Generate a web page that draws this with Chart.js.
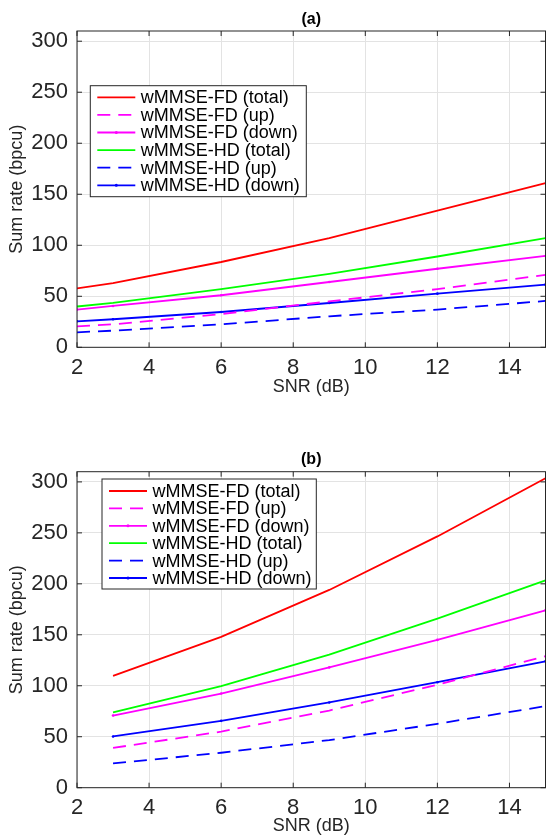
<!DOCTYPE html>
<html>
<head>
<meta charset="utf-8">
<script src="https://cdn.jsdelivr.net/npm/chart.js@4.4.1/dist/chart.umd.min.js"></script>
<style>
  html, body { margin: 0; padding: 0; background: #fff; }
  .panel { position: absolute; left: 0; width: 547px; }
</style>
</head>
<body>
<div class="panel" style="top:0;height:420px"><canvas id="chart-a" width="547" height="420"></canvas></div>
<div class="panel" style="top:420px;height:417px"><canvas id="chart-b" width="547" height="417"></canvas></div>
<script>
// ---- data ----
const seriesNames = [
  "wMMSE-FD (total)",
  "wMMSE-FD (up)",
  "wMMSE-FD (down)",
  "wMMSE-HD (total)",
  "wMMSE-HD (up)",
  "wMMSE-HD (down)",
];
const panelTitles = ["(a)", "(b)"];
const xAxisLabel = "SNR (dB)";
const yAxisLabel = "Sum rate (bpcu)";
const xTicks = [2, 4, 6, 8, 10, 12, 14];
const yTicks = [0, 50, 100, 150, 200, 250, 300];

// panel (a)
const snrA = [2, 3, 6, 9, 12, 15];
const fdTotalA = [57.8, 63, 83.6, 107, 134, 161];
const fdUpA = [20.5, 22.5, 32.6, 45, 57, 71];
const fdDownA = [37, 40.5, 51, 64, 77, 89.5];
const hdTotalA = [40, 43.5, 57, 72, 89, 107];
const hdUpA = [14.7, 16.3, 22.5, 30.4, 37, 45.4];
const hdDownA = [25.5, 27.5, 34.6, 43.4, 52.6, 61.4];

// panel (b)
const snrB = [3, 6, 9, 12, 15];
const fdTotalB = [109.7, 148, 194, 246.5, 303.6];
const fdUpB = [39, 55, 75.7, 101, 129];
const fdDownB = [70.8, 92.4, 118, 145, 174];
const hdTotalB = [74, 99.6, 130.6, 165.8, 203.4];
const hdUpB = [23.8, 34.3, 46.7, 62.7, 80];
const hdDownB = [50.3, 65.6, 83.6, 103.5, 124];

// ---- styles ----
const seriesColors = ["#ff0000", "#ff00ff", "#ff00ff", "#00ff00", "#0000ff", "#0000ff"];
const seriesDashed = [false, true, false, false, true, false];
const seriesDots = [false, false, true, false, false, true];
const FONT = "'Liberation Sans', Arial, Helvetica, sans-serif";
const AXIS_COLOR = "#262626";

// MATLAB-like box, inward ticks, panel title and inset legend
const matlabAxes = {
  id: "matlabAxes",
  afterDatasetsDraw(chart, args, opts) {
    const { ctx, chartArea: a, scales } = chart;
    ctx.save();
    ctx.strokeStyle = AXIS_COLOR;
    ctx.lineWidth = 1;
    ctx.setLineDash([]);
    ctx.strokeRect(a.left, a.top, a.right - a.left, a.bottom - a.top);

    ctx.beginPath();
    scales.x.ticks.forEach((t) => {
      const px = scales.x.getPixelForValue(t.value);
      ctx.moveTo(px, a.bottom);
      ctx.lineTo(px, a.bottom - 5);
      ctx.moveTo(px, a.top);
      ctx.lineTo(px, a.top + 5);
    });
    scales.y.ticks.forEach((t) => {
      const py = scales.y.getPixelForValue(t.value);
      ctx.moveTo(a.left, py);
      ctx.lineTo(a.left + 5, py);
      ctx.moveTo(a.right, py);
      ctx.lineTo(a.right - 5, py);
    });
    ctx.stroke();

    // title
    ctx.fillStyle = "#000";
    ctx.font = "bold 16px " + FONT;
    ctx.textAlign = "center";
    ctx.textBaseline = "middle";
    ctx.fillText(opts.title, (a.left + a.right) / 2, a.top - opts.titleOffset);

    // legend
    const lg = opts.legend;
    const bx = a.left + lg.x;
    const by = a.top + lg.y;
    ctx.fillStyle = "#fff";
    ctx.fillRect(bx, by, lg.w, lg.h);
    ctx.strokeStyle = AXIS_COLOR;
    ctx.lineWidth = 1;
    ctx.strokeRect(bx, by, lg.w, lg.h);

    ctx.font = "18px " + FONT;
    ctx.textAlign = "left";
    chart.data.datasets.forEach((ds, i) => {
      const ry = by + lg.first + i * lg.gap;
      ctx.strokeStyle = ds.borderColor;
      ctx.lineWidth = ds.borderWidth;
      ctx.setLineDash(ds.borderDash);
      ctx.beginPath();
      ctx.moveTo(bx + 7, ry);
      ctx.lineTo(bx + 45, ry);
      ctx.stroke();
      ctx.setLineDash([]);
      if (ds.pointRadius > 0) {
        ctx.fillStyle = ds.borderColor;
        ctx.beginPath();
        ctx.arc(bx + 26, ry, 1.5, 0, Math.PI * 2);
        ctx.fill();
      }
      ctx.fillStyle = "#000";
      ctx.fillText(ds.label, bx + 50.5, ry + 1);
    });
    ctx.restore();
  },
};

function buildChart(canvasId, title, snr, values, layout) {
  const datasets = seriesNames.map((name, i) => ({
    label: name,
    data: snr.map((x, k) => ({ x: x, y: values[i][k] })),
    borderColor: seriesColors[i],
    backgroundColor: seriesColors[i],
    borderWidth: 1.8,
    borderDash: seriesDashed[i] ? [13, 8] : [],
    pointRadius: seriesDots[i] ? 1.3 : 0,
    pointBorderWidth: 0,
    pointHoverRadius: 0,
    tension: 0,
    fill: false,
  }));

  return new Chart(document.getElementById(canvasId), {
    type: "line",
    data: { datasets },
    plugins: [matlabAxes],
    options: {
      responsive: false,
      animation: false,
      devicePixelRatio: 1,
      events: [],
      layout: {
        padding: { left: 0, right: 1.5, top: layout.top, bottom: 0 },
      },
      plugins: {
        legend: { display: false },
        tooltip: { enabled: false },
        title: { display: false },
        matlabAxes: {
          title: title,
          titleOffset: layout.titleOffset,
          legend: layout.legend,
        },
      },
      scales: {
        x: {
          type: "linear",
          min: 2,
          max: 15,
          afterBuildTicks: (scale) => {
            scale.ticks = xTicks.map((v) => ({ value: v }));
          },
          afterFit: (scale) => {
            scale.height = layout.xAxisHeight;
          },
          grid: { color: "#e3e3e3", drawTicks: false },
          border: { display: false },
          ticks: {
            color: AXIS_COLOR,
            font: { family: FONT, size: 22 },
            padding: 7,
            maxRotation: 0,
          },
          title: {
            display: true,
            text: xAxisLabel,
            color: AXIS_COLOR,
            font: { family: FONT, size: 18 },
            padding: { top: 0, bottom: layout.xTitlePad },
          },
        },
        y: {
          min: 0,
          max: 310,
          afterBuildTicks: (scale) => {
            scale.ticks = yTicks.map((v) => ({ value: v }));
          },
          afterFit: (scale) => {
            scale.width = 77;
          },
          grid: { color: "#e3e3e3", drawTicks: false },
          border: { display: false },
          ticks: {
            color: AXIS_COLOR,
            font: { family: FONT, size: 22 },
            padding: 9,
          },
          title: {
            display: true,
            text: yAxisLabel,
            color: AXIS_COLOR,
            font: { family: FONT, size: 18 },
            padding: { top: 6.6, bottom: 0 },
          },
        },
      },
    },
  });
}

buildChart("chart-a", panelTitles[0], snrA,
  [fdTotalA, fdUpA, fdDownA, hdTotalA, hdUpA, hdDownA],
  {
    top: 31,
    titleOffset: 11.5,
    xAxisHeight: 72.7,
    xTitlePad: 22.2,
    legend: { x: 13.3, y: 54.7, w: 216, h: 111, first: 11.6, gap: 17.6 },
  });

buildChart("chart-b", panelTitles[1], snrB,
  [fdTotalB, fdUpB, fdDownB, hdTotalB, hdUpB, hdDownB],
  {
    top: 51.7,
    titleOffset: 12.4,
    xAxisHeight: 49.3,
    xTitlePad: 0,
    legend: { x: 25, y: 7.3, w: 214.3, h: 110, first: 12, gap: 17.4 },
  });
</script>
</body>
</html>
